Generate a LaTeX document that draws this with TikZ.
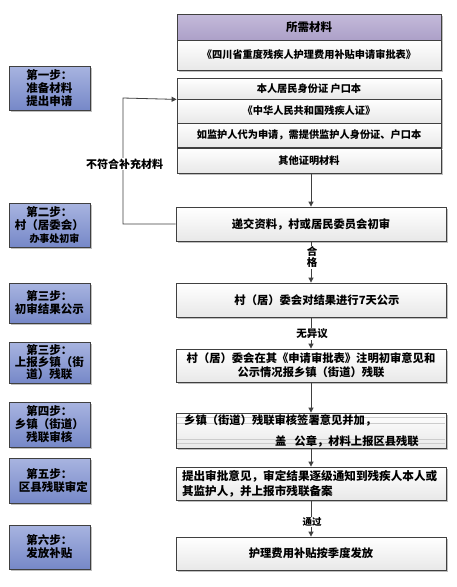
\documentclass[tikz,border=0pt]{standalone}
\usepackage{fontspec}
\setmainfont{Noto Sans CJK SC}
\usetikzlibrary{arrows.meta,shadows}
\definecolor{stepTop}{RGB}{168,180,224}
\definecolor{stepBot}{RGB}{118,136,200}
\definecolor{hdrTop}{RGB}{196,186,218}
\definecolor{hdrBot}{RGB}{172,160,200}
\definecolor{boxBot}{RGB}{232,232,232}
\definecolor{edge}{RGB}{64,64,64}
\begin{document}
\begin{tikzpicture}[x=1pt,y=-1pt,
  shad/.style={drop shadow={shadow xshift=2pt,shadow yshift=-2pt,fill=black!25,opacity=1}},
  stepbox/.style={draw=edge,line width=0.8pt,top color=stepTop,bottom color=stepBot,minimum width=81pt,inner sep=0pt,align=center,font=\bfseries\fontsize{11.5}{13}\selectfont,shad},
  rbox/.style={draw=edge,line width=0.8pt,top color=white,bottom color=boxBot,inner sep=0pt,shad},
  mbox/.style={rbox,minimum width=264pt,font=\bfseries\fontsize{10.2}{12}\selectfont},
  lbox/.style={rbox,minimum width=270pt,font=\bfseries\fontsize{11.3}{13}\selectfont},
  lab/.style={fill=white,inner sep=1pt,font=\bfseries\fontsize{10.5}{11}\selectfont},
  arr/.style={draw=edge,line width=0.8pt,-{Triangle[width=5pt,length=5pt]}},
  ln/.style={draw=edge,line width=0.8pt}]
\useasboundingbox (0,0) rectangle (457,587);
\fill[white] (0,0) rectangle (457,587);
% left steps
\node[stepbox,minimum height=44pt] (s1) at (49.5,88) {第一步：\\准备材料\\提出申请};
\node[stepbox,minimum height=44pt] (s2) at (49.5,225) {第二步：\\村（居委会）\\\hspace*{10pt}{\fontsize{10}{11}\selectfont 办事处初审}};
\node[stepbox,minimum height=40pt] (s3) at (49.5,303) {第三步：\\初审结果公示};
\node[stepbox,minimum height=41pt,font=\bfseries\fontsize{11.5}{12}\selectfont] (s3b) at (49.5,362.5) {第三步：\\上报乡镇（街\\道）残联};
\node[stepbox,minimum height=45pt] (s4) at (49.5,424.5) {第四步：\\乡镇（街道）\\残联审核};
\node[stepbox,minimum height=45pt] (s5) at (49.5,480.5) {第五步：\\\hspace*{8pt}区县残联审定};
\node[stepbox,minimum height=44pt] (s6) at (49.5,547) {第六步：\\发放补贴};
% materials
\node[mbox,minimum height=26pt,top color=hdrTop,bottom color=hdrBot,font=\bfseries\fontsize{11.5}{13}\selectfont] (hd) at (309,27) {所需材料};
\node[mbox,minimum height=30pt] (m1) at (309,55) {《四川省重度残疾人护理费用补贴申请审批表》};
\node[mbox,minimum height=21pt] (m2) at (309,88.5) {本人居民身份证 户口本};
\node[mbox,minimum height=24pt] (m3) at (309,111) {《中华人民共和国残疾人证》};
\node[mbox,minimum height=24pt] (m4) at (309,135) {如监护人代为申请，需提供监护人身份证、户口本};
\node[mbox,minimum height=25pt] (m5) at (309,160.5) {其他证明材料};
% process boxes
\node[lbox,minimum height=34pt] (r1) at (311,224) {递交资料，村或居民委员会初审};
\node[lbox,minimum height=34pt] (r2) at (311,300) {\hspace*{12pt}村（居）委会对结果进行7天公示};
\node[lbox,minimum height=33pt,align=center,font=\bfseries\fontsize{11.3}{14}\selectfont] (r3) at (311,365.5) {村（居）委会在其《申请审批表》注明初审意见和\\公示情况报乡镇（街道）残联};
\node[lbox,minimum height=35pt] (r4) at (311,430.5) {};
\draw[black!20,line width=0.8pt] (177,417) -- (445,417) (177,423) -- (445,423) (177,439) -- (445,439) (177,443.5) -- (445,443.5);
\node[anchor=west,inner sep=0pt,font=\bfseries\fontsize{11.3}{13}\selectfont] (r4a) at (184,420) {乡镇（街道）残联审核签署意见并加，};
\node[anchor=west,inner sep=0pt,font=\bfseries\fontsize{11.3}{13}\selectfont] (r4b) at (275,441) {盖\hspace{8pt}公章，材料上报区县残联};
\node[lbox,minimum height=33pt,text width=258pt,align=left,font=\bfseries\fontsize{11.6}{15}\selectfont] (r5) at (311,483.5) {提出审批意见，审定结果逐级通知到残疾人本人或\\其监护人，并上报市残联备案};
\node[lbox,minimum height=33pt] (r6) at (311,553.5) {护理费用补贴按季度发放};
% connectors
\draw[arr] (r1.north |- m5.south) -- (r1.north);
\draw[arr] (r1.south) -- (r2.north);
\node[lab,align=center,font=\bfseries\fontsize{10.5}{9.5}\selectfont] (hg) at (312,257) {合\\格};
\draw[arr] (r2.south) -- (r3.north);
\node[lab] (wy) at (312,334) {无异议};
\draw[arr] (r3.south) -- (r4.north);
\draw[arr] (r4.south) -- (r5.north);
\draw[arr] (r5.south) -- (r6.north);
\node[lab,font=\bfseries\fontsize{9.5}{10}\selectfont] (tg) at (312,522) {通过};
\coordinate (fb) at (123,98);
\draw[arr] (r1.west) -| (fb) -- (m2.south west);
\node[lab,font=\bfseries\fontsize{11}{12}\selectfont] (bf) at (124.5,164) {不符合补充材料};
\end{tikzpicture}
\end{document}
